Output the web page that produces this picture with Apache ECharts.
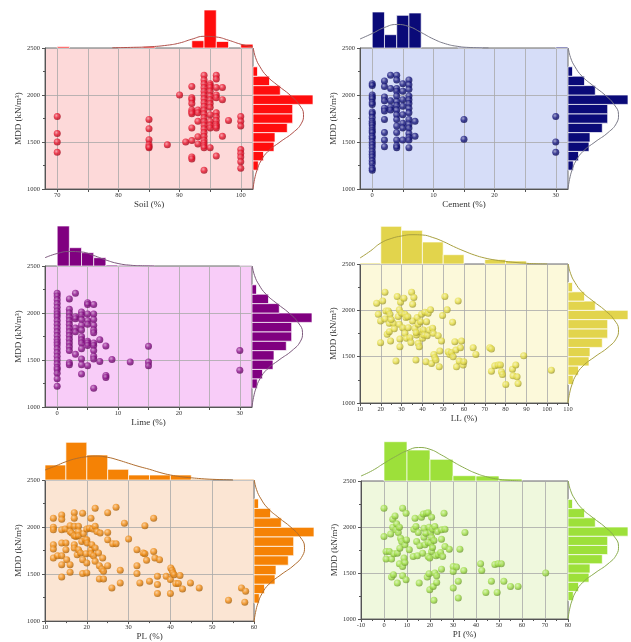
<!DOCTYPE html>
<html><head><meta charset="utf-8">
<script src="https://cdn.jsdelivr.net/npm/echarts@6/dist/echarts.min.js"></script>
<style>html,body{margin:0;padding:0;background:#fff}#c{width:631px;height:642px}</style>
</head><body><div id="c"></div>
<script>
// ---------- DATA ----------
const yTicks = [1000, 1500, 2000, 2500];

const soilPts = [
[70,1770],[70,1590],[70,1500],[70,1390],
[85,1740],[85,1640],[85,1525],[85,1470],[85,1450],[85,1440],
[88,1470],[90,2000],[91,1500],
[92,2090],[92,1970],[92,1950],[92,1910],[92,1840],[92,1820],[92,1800],[92,1650],[92,1515],[92,1340],[92,1320],
[93,1840],[93,1810],[93,1720],[93,1555],[93,1480],
[94,2210],[94,2160],[94,2120],[94,2080],[94,2040],[94,2000],[94,1960],[94,1920],[94,1880],[94,1840],[94,1800],[94,1760],[94,1720],[94,1680],[94,1640],[94,1600],[94,1560],[94,1520],[94,1490],[94,1460],[94,1440],[94,1200],
[95,2120],[95,2100],[95,2080],[95,2040],[95,1990],[95,1950],[95,1910],[95,1870],[95,1790],[95,1720],[95,1680],[95,1650],[95,1440],
[96,2210],[96,2170],[96,2080],[96,2000],[96,1970],[96,1810],[96,1770],[96,1730],[96,1690],[96,1670],[96,1650],[96,1350],
[97,2080],[97,1950],[97,1560],[98,1730],
[100,1770],[100,1720],[100,1670],[100,1420],[100,1380],[100,1340],[100,1290],[100,1220]
];
const cementPts = [
[0,2120],[0,2100],[0,2000],[0,1980],[0,1960],[0,1920],[0,1900],[0,1820],[0,1800],[0,1760],[0,1720],[0,1700],[0,1680],[0,1650],[0,1620],[0,1600],[0,1560],[0,1540],[0,1500],[0,1470],[0,1440],[0,1400],[0,1370],[0,1340],[0,1300],[0,1270],[0,1220],[0,1200],
[2,2150],[2,2090],[2,1980],[2,1940],[2,1860],[2,1830],[2,1740],[2,1600],[2,1520],[2,1450],
[3,2210],[3,2070],[3,1940],[3,1870],[3,1840],
[4,2210],[4,2160],[4,2070],[4,2040],[4,1990],[4,1930],[4,1890],[4,1840],[4,1790],[4,1740],[4,1670],[4,1600],[4,1520],[4,1460],[4,1440],
[5,2120],[5,2040],[5,1950],[5,1880],[5,1790],[5,1700],[5,1650],[5,1520],
[6,2160],[6,2110],[6,2060],[6,1990],[6,1950],[6,1910],[6,1860],[6,1810],[6,1740],[6,1690],[6,1650],[6,1590],[6,1550],[6,1520],[6,1440],
[7,1720],[7,1560],[15,1740],[15,1530],[30,1770],[30,1500],[30,1390]
];
const limePts = [
[0,2210],[0,2180],[0,2140],[0,2100],[0,2060],[0,2020],[0,1990],[0,1960],[0,1920],[0,1880],[0,1840],[0,1800],[0,1760],[0,1720],[0,1690],[0,1660],[0,1620],[0,1580],[0,1540],[0,1500],[0,1460],[0,1420],[0,1400],[0,1360],[0,1300],[0,1220],
[2,2150],[2,2040],[2,2000],[2,1960],[2,1920],[2,1880],[2,1840],[2,1800],[2,1760],[2,1720],[2,1680],[2,1640],[2,1600],[2,1470],[2,1450],
[3,2210],[3,1960],[3,1940],[3,1840],[3,1800],[3,1560],
[4,2010],[4,1980],[4,1930],[4,1870],[4,1820],[4,1750],[4,1715],[4,1680],[4,1620],[4,1510],[4,1450],[4,1350],
[5,2110],[5,2090],[5,1990],[5,1920],[5,1880],[5,1700],[5,1680],[5,1655],[5,1440],
[6,2090],[6,1990],[6,1930],[6,1870],[6,1820],[6,1790],[6,1680],[6,1655],[6,1600],[6,1540],[6,1510],[6,1200],
[7,1715],[7,1485],[8,1650],[8,1335],[8,1315],[9,1505],[12,1480],[15,1645],[15,1480],[15,1440],[30,1600],[30,1390]
];
const llPts = [
[18,2077],[18.8,1958],[19.9,1886],[19.9,1651],[20.9,2102],[22,2196],[22,1907],[22.5,1994],[23.1,1741],[23.6,1994],
[24.1,1860],[24.1,1770],[24.7,1669],[24.4,1958],[26,1860],[27.3,1452],[27.9,2149],[28.4,1933],[28.9,2005],[28.9,1849],
[29.2,1607],[29.2,1690],[29.5,2088],[30,1969],[30.5,1813],[31.1,2131],[31.6,1958],[31.6,1752],[32.1,1922],[32.4,1698],
[33.2,1813],[34,1705],[34.5,1654],[34.8,2196],[35.3,2066],[35.3,1886],[35.9,2139],[36.4,1806],[36.9,1463],[37.2,1734],
[37.5,1922],[38,1644],[38,1849],[38.5,1607],[38.8,1770],[39.1,1878],[39.6,1958],[40.1,1698],[40.4,1788],[40.7,1734],
[41.2,1980],[41.7,1445],[42,1878],[42.3,1727],[42.8,1969],[43.3,1788],[43.9,2005],[44.4,1427],[44.9,1806],[45.2,1752],
[45.5,1524],[46,1488],[46.5,1463],[47.6,1727],[48.1,1390],[48.4,1560],[49.2,1669],[49.7,1943],[50.8,2149],[51.9,2005],
[52.4,1553],[53.2,1524],[54,1546],[54.5,1871],[54.8,1499],[55.6,1662],[56.1,1571],[56.4,1390],[57.2,2102],[57.7,1452],
[58.3,1596],[58.8,1669],[59.6,1409],[59.9,1445],[64.4,1596],[65.7,1524],[72.4,1596],[73.2,1582],[73.2,1343],[74.8,1401],
[76.4,1409],[77.5,1409],[78,1336],[78.5,1307],[80.1,1199],[83.3,1365],[83.6,1293],[84.9,1409],[85.5,1282],[86,1210],
[88.7,1510],[102,1354],[25,1900],[26.5,1800],[33,1930],[37,1760]
];
const plPts = [
[12,2094],[12,1999],[12,1971],[12,1812],[12,1766],[12,1671],[13,1695],[14,2129],[14,2083],[14,1971],[14,1830],[14,1695],
[14,1600],[14,1469],[14.8,1978],[15,1830],[15,1759],[15.2,1653],[16,2014],[16,1953],[16,1600],[16,1519],[16.4,1936],
[17,2153],[17,2094],[17,2007],[17,1907],[17,1812],[17,1777],[17.4,1900],[17.7,1706],[18,2007],[18,1953],[18,1907],
[18,1759],[18.5,1724],[18.8,1847],[19,2147],[19,1653],[19,1505],[19.2,1929],[19.6,1865],[19.8,1717],[20,1978],[20,1865],
[20,1618],[20,1512],[20.1,1830],[20.6,1988],[21,2094],[21,1759],[21,1717],[21.2,1812],[21.4,1978],[21.6,1695],[22,2200],
[22,2007],[22,1777],[22,1635],[22.4,1953],[22.8,1724],[23,1448],[23,1589],[23.2,1936],[23.6,1554],[23.8,1671],[24,1448],
[24,1529],[25,2153],[25,1943],[25,1865],[25,1589],[26,1353],[26.2,1823],[27,2211],[27,1823],[28,1540],[28,1406],[29,2041],
[30,1872],[32,1759],[32,1589],[32,1505],[32.7,1406],[33.5,1724],[33.9,1717],[33.9,2014],[34.3,1646],[35,1424],[36,2094],
[36,1741],[36.3,1671],[36.9,1388],[36.9,1476],[36.9,1293],[37.4,1653],[39,1476],[40,1441],[40,1293],[40.1,1565],[40.4,1540],
[40.6,1512],[40.9,1494],[41.3,1399],[41.9,1399],[42.3,1484],[42.9,1342],[44.8,1406],[46.9,1353],[53.9,1222],[57,1353],
[58,1318],[57.8,1201]
];
const piPts = [
[0,2204],[0,1896],[0.9,1734],[0.9,1651],[2.3,1734],[2.9,1925],[3.3,1651],[3.3,1456],[3.8,2084],[3.8,1998],[4.1,1481],
[4.3,1709],[4.8,2120],[5.2,1969],[5.5,2034],[5.8,1716],[5.8,1391],[6.2,1940],[6.7,1998],[6.7,1600],[6.9,1770],[7.2,1878],
[7.7,1842],[8.1,1571],[8.1,1470],[8.1,2204],[8.7,1662],[9.1,1806],[9.1,1615],[9.6,2149],[9.6,1427],[9.8,1860],[11,1752],
[12.7,1680],[13,1976],[13.5,2095],[13.9,2005],[14.2,1842],[14.5,1687],[14.9,1940],[15.3,1391],[15.6,1796],[16.3,2106],
[16.8,1716],[17.1,2142],[17.4,1987],[17.4,1889],[17.8,1806],[18.2,1933],[18.5,2149],[18.8,1456],[19.2,2156],[19.2,1680],
[19.2,1831],[19.6,1998],[19.6,1492],[19.9,1318],[19.9,1662],[20.3,1940],[20.3,1824],[20.7,2106],[20.7,1889],[20.7,1734],
[21.1,1976],[21.1,1777],[21.4,1354],[21.7,1203],[21.7,1853],[22.1,1499],[22.1,2005],[22.6,1687],[22.9,1470],[22.9,1398],
[23.2,1951],[23.6,1698],[24.6,1723],[25,1969],[25,1867],[25,1542],[25.5,1680],[26.1,2149],[26.5,1976],[26.5,1788],
[28.4,1759],[30.1,1571],[30.1,1517],[30.1,1336],[31.5,1564],[32.3,1409],[32.3,1228],[33,1759],[34.7,1528],[35.2,1940],
[42,1600],[42.5,1528],[44.3,1289],[46.7,1409],[48.2,1593],[49.2,1289],[49.6,1600],[51,1600],[52.1,1409],[55,1354],
[58.3,1354],[70.3,1499]
];

// top histograms: [binStart, binEnd, height]
const soilHist = [[70,72,1.3],[80,82,0.7],[82,84,0.7],[84,86,1.3],[92,94,7.3],[94,96,38],[96,98,6.5],[100,102,3.8]];
const cementHist = [[0,2,36],[2,4,13.3],[4,6,32.7],[6,8,35],[14,16,0.7],[16,18,0.7],[30,32,1]];
const limeHist = [[0,2,40],[2,4,18.3],[4,6,13.3],[6,8,8.3],[8,10,1],[10,12,0.7],[12,14,0.7],[14,16,0.7],[30,32,0.5]];
const llHist = [[10,20,1],[20,30,37.7],[30,40,33.7],[40,50,22],[50,60,9.3],[70,80,4.5],[80,90,3]];
const plHist = [[10,15,15],[15,20,37.7],[20,25,25],[25,30,10.7],[30,35,5],[35,40,5],[40,45,5],[45,50,0.7],[55,60,0.7]];
const piHist = [[0,10,39.3],[10,20,31],[20,30,21.7],[30,40,5.3],[40,50,5],[50,60,2]];
// MDD histogram (right side of every panel): [binStart, binEnd, length]
const mddHist = [[1200,1300,5.3],[1300,1400,10.5],[1400,1500,21],[1500,1600,22],[1600,1700,34.3],[1700,1800,39.7],[1800,1900,39.7],[1900,2000,60],[2000,2100,27.3],[2100,2200,16.5],[2200,2300,4.5]];

// fitted curves
const soilCurve = [[79,0.2],[82,0.6],[85,1.2],[88,2.8],[90,5],[92,8.8],[94,11.7],[96,11],[98,7.8],[100,3.8],[102,1]];
const cementCurve = [[-2,9],[0,14.5],[2,20.5],[4,23.5],[6,21.5],[8,15.5],[10,9],[12,4.2],[14,1.6],[16,0.5],[19,0]];
const limeCurve = [[-2,8.3],[0,12.5],[2,14.5],[4,14],[6,10.5],[8,6],[10,2.5],[12,0.8],[14,0.2],[16,0]];
const llCurve = [[10,6],[15,13],[20,21],[25,25.5],[30,28],[35,29.3],[40,29],[45,26.5],[50,22.5],[55,17.5],[60,13],[65,9],[70,6],[75,4],[80,2.6],[85,1.5],[90,0.7],[95,0.2],[100,0]];
const plCurve = [[10,10],[12.5,14],[15,18.3],[17.5,21.5],[20,23.3],[22,24],[25,22.7],[27.5,20],[30,16.7],[32.5,13.5],[35,10.7],[37.5,7.5],[40,5],[42.5,3.3],[45,2.2],[47.5,1.3],[50,0.7],[55,0]];
const piCurve = [[-10,5],[-5,10.5],[0,17.7],[5,24.5],[10,30.3],[15,33.5],[20,31.7],[25,26],[30,19.3],[35,13],[40,7.7],[45,4],[50,1.7],[55,0.6],[60,0]];
// [MDD, length]
const mddCurve = [[1000,0],[1100,1.5],[1200,4],[1300,8],[1400,15],[1500,27],[1600,40],[1700,48.5],[1790,50.5],[1900,46],[2000,37],[2100,25],[2200,14],[2300,7],[2400,2.5],[2500,0.3]];

const soilTicks = [70,80,90,100], cementTicks = [0,10,20,30], limeTicks = [0,10,20,30];

// ---------- PANELS ----------
const panels = [
 {name:'Soil (%)', pts:soilPts, hist:soilHist, curve:soilCurve, min:68, max:102, labels:soilTicks, minors:[70,75,80,85,90,95,100],
  grid:[45,48,208,141], mk:'#e8142c', hc:'#ff0d0d', bg:'#fdd9d9', cc:'#b0504a'},
 {name:'Cement (%)', pts:cementPts, hist:cementHist, curve:cementCurve, min:-2, max:32, labels:cementTicks, minors:[0,5,10,15,20,25,30],
  grid:[360,48,208,141], mk:'#16167e', hc:'#0a0a78', bg:'#d6ddf8', cc:'#7a7a88'},
 {name:'Lime (%)', pts:limePts, hist:limeHist, curve:limeCurve, min:-2, max:32, labels:limeTicks, minors:[0,5,10,15,20,25,30],
  grid:[45,266,207,141], mk:'#8a1289', hc:'#800080', bg:'#f8ccf8', cc:'#7d5a7d'},
 {name:'LL (%)', pts:llPts, hist:llHist, curve:llCurve, min:10, max:110, interval:10,
  grid:[360,264,208,139], mk:'#e6de4a', hc:'#e2d44c', bg:'#fcf9da', cc:'#a8a040'},
 {name:'PL (%)', pts:plPts, hist:plHist, curve:plCurve, min:10, max:60, interval:10,
  grid:[45,480,209,142], mk:'#f08c14', hc:'#f58205', bg:'#fbe5d3', cc:'#b06e30'},
 {name:'PI (%)', pts:piPts, hist:piHist, curve:piCurve, min:-10, max:80, interval:10,
  grid:[361,481,207,138], mk:'#a2e04a', hc:'#9de03a', bg:'#eff8dd', cc:'#8aac4e'}
];

function shade(hex, f) {
  const n = parseInt(hex.slice(1), 16);
  let r = n >> 16, g = (n >> 8) & 255, b = n & 255;
  if (f > 0) { r += (255 - r) * f; g += (255 - g) * f; b += (255 - b) * f; }
  else { r *= 1 + f; g *= 1 + f; b *= 1 + f; }
  return 'rgb(' + Math.round(r) + ',' + Math.round(g) + ',' + Math.round(b) + ')';
}

const FONT = 'Liberation Serif';
const grids = [], xAxes = [], yAxes = [], series = [];

panels.forEach(p => {
  const g = p.grid, gi = grids.length;
  grids.push({left:g[0], top:g[1], width:g[2], height:g[3], show:true, backgroundColor:p.bg, borderColor:'#6a6a6a', borderWidth:1});
  grids.push({left:g[0], top:g[1] - 40, width:g[2], height:40});
  grids.push({left:g[0] + g[2], top:g[1], width:61, height:g[3]});

  const xa = {
    gridIndex:gi, type:'value', min:p.min, max:p.max,
    name:p.name, nameLocation:'middle', nameGap:9,
    nameTextStyle:{fontFamily:FONT, fontSize:9, color:'#333'},
    axisLine:{show:true, onZero:false, lineStyle:{color:'#555', width:1}},
    axisTick:{show:true, inside:false, length:3, lineStyle:{color:'#555'}},
    axisLabel:{fontFamily:FONT, fontSize:6.5, color:'#333', margin:3, formatter:v => String(v)},
    splitLine:{show:true, lineStyle:{color:'#a8a8a8', width:0.8}}
  };
  if (p.interval) {
    xa.interval = p.interval;
    xa.minorTick = {show:true, splitNumber:2, length:2, lineStyle:{color:'#555'}};
  } else {
    xa.minInterval = 10; xa.maxInterval = 10;
    xa.axisLabel.customValues = p.labels;
    xa.axisTick.customValues = p.minors;
  }
  xAxes.push(xa);
  yAxes.push({
    gridIndex:gi, type:'value', min:1000, max:2500, interval:500,
    name:'MDD (kN/m³)', nameLocation:'middle', nameGap:20, nameRotate:90,
    nameTextStyle:{fontFamily:FONT, fontSize:9, color:'#333'},
    axisLine:{show:true, onZero:false, lineStyle:{color:'#555', width:1}},
    axisTick:{show:true, length:3, lineStyle:{color:'#555'}},
    minorTick:{show:true, splitNumber:2, length:2, lineStyle:{color:'#555'}},
    axisLabel:{fontFamily:FONT, fontSize:6.5, color:'#333', margin:5, formatter:v => String(v)},
    splitLine:{show:true, lineStyle:{color:'#a8a8a8', width:0.8}}
  });
  // top hist axes
  xAxes.push({gridIndex:gi + 1, type:'value', min:p.min, max:p.max, show:false});
  yAxes.push({gridIndex:gi + 1, type:'value', min:0, max:40, show:false});
  // right hist axes
  xAxes.push({gridIndex:gi + 2, type:'value', min:0, max:61, show:false});
  yAxes.push({gridIndex:gi + 2, type:'value', min:1000, max:2500, show:false});

  series.push({
    type:'scatter', xAxisIndex:gi, yAxisIndex:gi, data:p.pts, symbolSize:7,
    itemStyle:{color:{type:'radial', x:0.38, y:0.35, r:0.65, colorStops:[
      {offset:0, color:shade(p.mk, 0.55)}, {offset:0.55, color:p.mk}, {offset:1, color:shade(p.mk, -0.3)}]}}
  });
  const hc = p.hc;
  series.push({
    type:'custom', xAxisIndex:gi + 1, yAxisIndex:gi + 1, data:p.hist, encode:{x:[0,1], y:2},
    renderItem:(params, api) => {
      const a = api.coord([api.value(0), 0]), b = api.coord([api.value(1), api.value(2)]);
      return {type:'rect', shape:{x:a[0], y:b[1], width:b[0] - a[0], height:a[1] - b[1]},
        style:{fill:hc, stroke:'rgba(255,255,255,0.85)', lineWidth:0.8}};
    }
  });
  series.push({
    type:'line', xAxisIndex:gi + 1, yAxisIndex:gi + 1, data:p.curve, smooth:true, showSymbol:false,
    lineStyle:{color:p.cc, width:1}, z:3
  });
  series.push({
    type:'custom', xAxisIndex:gi + 2, yAxisIndex:gi + 2, data:mddHist, encode:{x:2, y:[0,1]},
    renderItem:(params, api) => {
      const a = api.coord([0, api.value(0)]), b = api.coord([api.value(2), api.value(1)]);
      return {type:'rect', shape:{x:a[0], y:b[1], width:b[0] - a[0], height:a[1] - b[1]},
        style:{fill:hc, stroke:'rgba(255,255,255,0.9)', lineWidth:0.8}};
    }
  });
  series.push({
    type:'line', xAxisIndex:gi + 2, yAxisIndex:gi + 2, data:mddCurve.map(d => [d[1], d[0]]),
    smooth:true, showSymbol:false, lineStyle:{color:p.cc, width:1}, z:3
  });
});

const chart = echarts.init(document.getElementById('c'));
chart.setOption({animation:false, backgroundColor:'#fff', grid:grids, xAxis:xAxes, yAxis:yAxes, series:series});
</script></body></html>
